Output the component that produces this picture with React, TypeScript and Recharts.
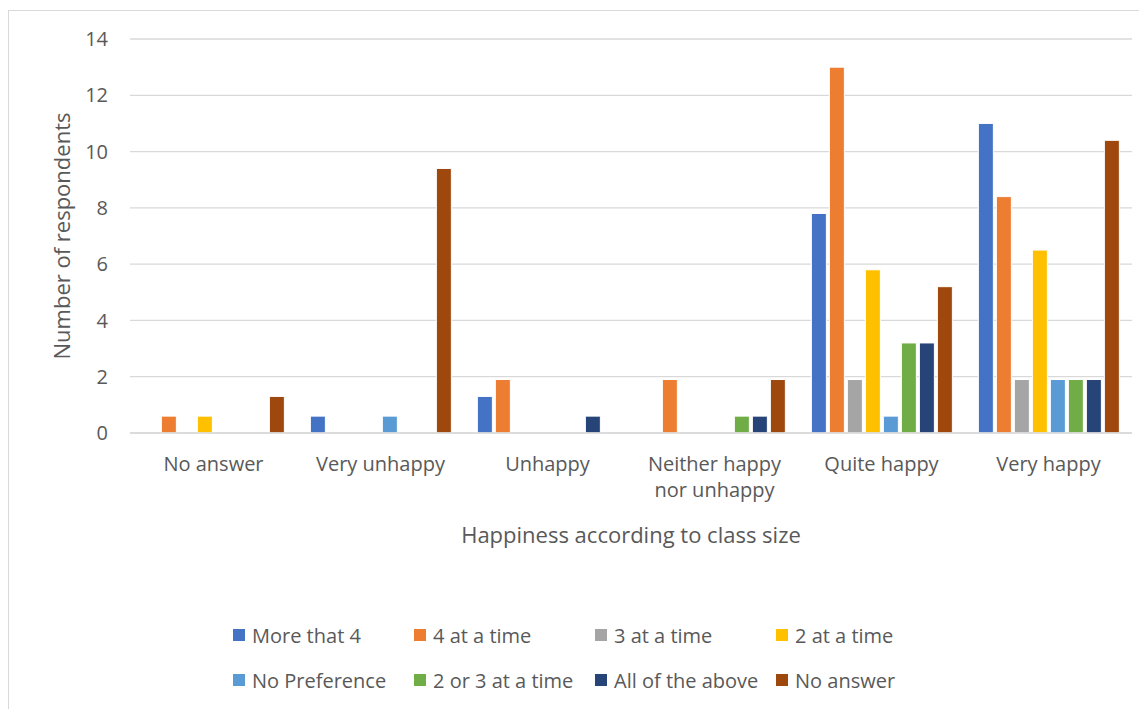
import { BarChart, Bar, XAxis, YAxis, CartesianGrid, Legend, Label } from "recharts";

const categories = ["No answer", "Very unhappy", "Unhappy", "Neither happy nor unhappy", "Quite happy", "Very happy"];

const moreThat4 = [0, 0.6, 1.3, 0, 7.8, 11];
const fourAtATime = [0.6, 0, 1.9, 1.9, 13, 8.4];
const threeAtATime = [0, 0, 0, 0, 1.9, 1.9];
const twoAtATime = [0.6, 0, 0, 0, 5.8, 6.5];
const noPreference = [0, 0.6, 0, 0, 0.6, 1.9];
const twoOrThree = [0, 0, 0, 0.6, 3.2, 1.9];
const allOfAbove = [0, 0, 0.6, 0.6, 3.2, 1.9];
const noAnswer = [1.3, 9.4, 0, 1.9, 5.2, 10.4];

const yTicks = [0, 2, 4, 6, 8, 10, 12, 14];

const series = [
  { key: "more4", name: "More that 4", color: "#4472C4", values: moreThat4 },
  { key: "four", name: "4 at a time", color: "#ED7D31", values: fourAtATime },
  { key: "three", name: "3 at a time", color: "#A5A5A5", values: threeAtATime },
  { key: "two", name: "2 at a time", color: "#FFC000", values: twoAtATime },
  { key: "nopref", name: "No Preference", color: "#5B9BD5", values: noPreference },
  { key: "twoOrThree", name: "2 or 3 at a time", color: "#70AD47", values: twoOrThree },
  { key: "all", name: "All of the above", color: "#264478", values: allOfAbove },
  { key: "noAnswer", name: "No answer", color: "#9E480E", values: noAnswer },
];

const data = categories.map((cat, i) => {
  const row: Record<string, any> = { cat };
  series.forEach((s) => (row[s.key] = s.values[i]));
  return row;
});

const FONT = "'Open Sans', sans-serif";
const TEXT = "#595959";
const GRID = "#d9d9d9";
const MAX_CHARS = 13;

// greedy word wrap by character count
function wrap(label: string) {
  const lines: string[] = [];
  let cur = "";
  label.split(" ").forEach((w) => {
    const next = cur ? cur + " " + w : w;
    if (next.length > MAX_CHARS && cur) {
      lines.push(cur);
      cur = w;
    } else {
      cur = next;
    }
  });
  if (cur) lines.push(cur);
  return lines;
}

function CategoryTick({ x, y, payload }: any) {
  const lines = wrap(String(payload.value));
  return (
    <text x={x} y={y} textAnchor="middle" fill={TEXT} fontSize={20} fontFamily={FONT}>
      {lines.map((ln, i) => (
        <tspan key={i} x={x} dy={i === 0 ? "0.9em" : 26}>
          {ln}
        </tspan>
      ))}
    </text>
  );
}

function LegendGrid() {
  return (
    <div style={{ display: "grid", gridTemplateColumns: "repeat(4, 181px)", rowGap: 19, fontFamily: FONT, fontSize: 20, color: TEXT }}>
      {series.map((s) => (
        <div key={s.key} style={{ display: "flex", alignItems: "center", height: 26, whiteSpace: "nowrap" }}>
          <span style={{ width: 12, height: 12, background: s.color, marginRight: 7, flex: "none" }} />
          {s.name}
        </div>
      ))}
    </div>
  );
}

export default function App() {
  return (
    <div style={{ width: 1139, height: 700, marginTop: 2, border: `1px solid ${GRID}`, background: "#fff", position: "relative" }}>
      <BarChart
        width={1137}
        height={698}
        data={data}
        margin={{ top: 28, right: 14, left: 0, bottom: 90 }}
        barCategoryGap="8%"
        barGap={3}
      >
        <CartesianGrid vertical={false} stroke={GRID} strokeWidth={1.3} />
        <XAxis
          dataKey="cat"
          axisLine={{ stroke: GRID, strokeWidth: 1.3 }}
          tickLine={false}
          tick={<CategoryTick />}
          tickMargin={14}
          interval={0}
          height={115}
        >
          <Label
            value="Happiness according to class size"
            position="insideBottom"
            offset={5}
            style={{ fontSize: 22, fill: TEXT, fontFamily: FONT }}
          />
        </XAxis>
        <YAxis
          width={121}
          domain={[0, 14]}
          ticks={yTicks}
          axisLine={false}
          tickLine={false}
          tickMargin={16}
          tick={{ fontSize: 20, fill: TEXT, fontFamily: FONT }}
        >
          <Label
            value="Number of respondents"
            angle={-90}
            position="insideLeft"
            offset={53}
            style={{ fontSize: 22, fill: TEXT, fontFamily: FONT, textAnchor: "middle" }}
          />
        </YAxis>
        <Legend
          content={<LegendGrid />}
          wrapperStyle={{ position: "absolute", top: 611, left: 224, width: 740 }}
        />
        {series.map((s) => (
          <Bar
            key={s.key}
            dataKey={s.key}
            name={s.name}
            fill={s.color}
            stroke="#fff"
            strokeWidth={1}
            isAnimationActive={false}
          />
        ))}
      </BarChart>
    </div>
  );
}
